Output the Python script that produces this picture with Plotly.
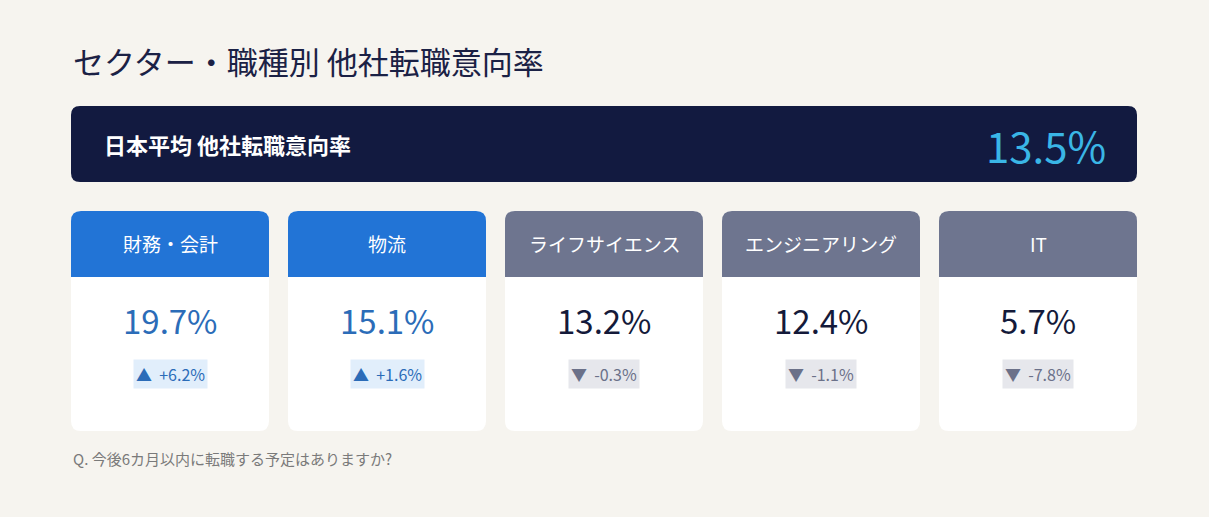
import plotly.graph_objects as go

W, H = 1209, 517

# ---- data ----
title = "セクター・職種別 他社転職意向率"
avg_label = "日本平均 他社転職意向率"
avg_value = 13.5
categories = ["財務・会計", "物流", "ライフサイエンス", "エンジニアリング", "IT"]
values = [19.7, 15.1, 13.2, 12.4, 5.7]
deltas = [6.2, 1.6, -0.3, -1.1, -7.8]
footnote = "Q. 今後6カ月以内に転職する予定はありますか?"

# ---- style ----
FONT = "Noto Sans CJK JP"
BG = "#f6f4ef"
NAVY = "#121a40"
CYAN = "#3ab6e6"
BLUE_HDR = "#2274d6"
GRAY_HDR = "#6e758f"
BLUE_TXT = "#2b6cb8"
DARK_TXT = "#141a3a"
BLUE_PILL = "#e1eefb"
GRAY_PILL = "#e6e7ec"
GRAY_PILL_TXT = "#6b7189"


def rrect(x0, y0, x1, y1, r, top_only=False):
    # y grows downward (reversed axis)
    if top_only:
        return (f"M{x0},{y1} L{x0},{y0+r} Q{x0},{y0} {x0+r},{y0} "
                f"L{x1-r},{y0} Q{x1},{y0} {x1},{y0+r} L{x1},{y1} Z")
    return (f"M{x0+r},{y0} L{x1-r},{y0} Q{x1},{y0} {x1},{y0+r} "
            f"L{x1},{y1-r} Q{x1},{y1} {x1-r},{y1} L{x0+r},{y1} "
            f"Q{x0},{y1} {x0},{y1-r} L{x0},{y0+r} Q{x0},{y0} {x0+r},{y0} Z")


fig = go.Figure()
shapes = []
ann = []

# title
ann.append(dict(x=71, y=60, text=title, xanchor="left", yanchor="middle",
                font=dict(family=FONT, size=31, color="#1b2145")))

# banner
bx0, bx1, by0, by1 = 71, 1137, 106, 182
shapes.append(dict(type="path", path=rrect(bx0, by0, bx1, by1, 9),
                   fillcolor=NAVY, line=dict(width=0), layer="below"))
ann.append(dict(x=102, y=(by0 + by1) / 2, text=f"<b>{avg_label}</b>",
                xanchor="left", yanchor="middle",
                font=dict(family=FONT, size=22, color="white")))
ann.append(dict(x=1108, y=(by0 + by1) / 2, text=f"{avg_value:.1f}%",
                xanchor="right", yanchor="middle",
                font=dict(family=FONT, size=42, color=CYAN)))

# cards
cw, gap = 198, 19
cy0, chdr, cy1 = 211, 277, 431
for i, (cat, v, d) in enumerate(zip(categories, values, deltas)):
    x0 = 71 + i * (cw + gap)
    x1 = x0 + cw
    xc = (x0 + x1) / 2
    pos = d >= 0
    hdr = BLUE_HDR if pos else GRAY_HDR
    shapes.append(dict(type="path", path=rrect(x0, cy0, x1, cy1, 10),
                       fillcolor="white", line=dict(width=0), layer="below"))
    shapes.append(dict(type="path", path=rrect(x0, cy0, x1, chdr, 10, top_only=True),
                       fillcolor=hdr, line=dict(width=0), layer="below"))
    ann.append(dict(x=xc, y=(cy0 + chdr) / 2 - 1, text=cat, xanchor="center", yanchor="middle",
                    font=dict(family=FONT, size=19, color="white")))
    ann.append(dict(x=xc, y=320, text=f"{v:.1f}%", xanchor="center", yanchor="middle",
                    font=dict(family=FONT, size=33, color=BLUE_TXT if pos else DARK_TXT)))
    dtxt = (f"▲&nbsp; +{d:.1f}%" if pos else f"▼&nbsp; {d:.1f}%")
    ann.append(dict(x=xc, y=374, text=dtxt, xanchor="center", yanchor="middle",
                    bgcolor=BLUE_PILL if pos else GRAY_PILL, borderpad=2,
                    font=dict(family=FONT, size=16, color=BLUE_TXT if pos else GRAY_PILL_TXT)))

# footnote
ann.append(dict(x=71, y=458, text=footnote, xanchor="left", yanchor="middle",
                font=dict(family=FONT, size=15, color="#7a7a7a")))

for a in ann:
    a.update(xref="x", yref="y", showarrow=False)

fig.update_layout(
    width=W, height=H, margin=dict(l=0, r=0, t=0, b=0),
    paper_bgcolor=BG, plot_bgcolor=BG,
    xaxis=dict(range=[0, W], visible=False, fixedrange=True),
    yaxis=dict(range=[H, 0], visible=False, fixedrange=True),
    shapes=shapes, annotations=ann, showlegend=False,
)

fig.write_html("out.html", config=dict(displayModeBar=False),
               post_script="document.body.style.margin='0';document.body.style.overflow='hidden';"
                           "document.body.style.background='" + BG + "';")
